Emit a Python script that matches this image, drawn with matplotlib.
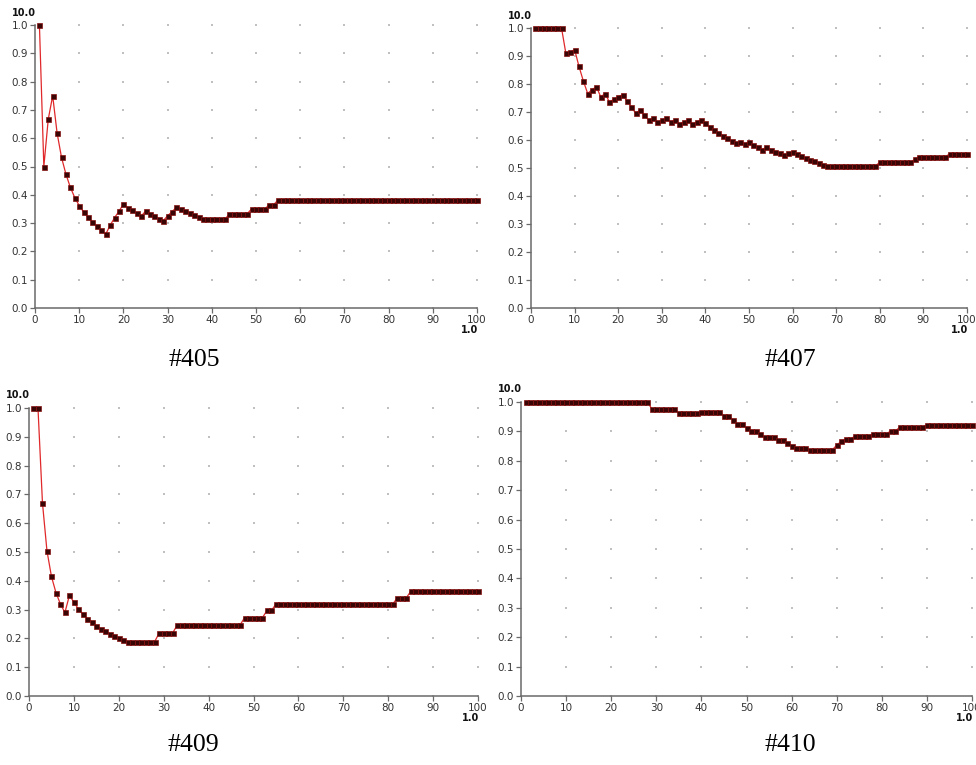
import numpy as np
import matplotlib
matplotlib.use("Agg")
import matplotlib.pyplot as plt

# Cumulative score per rank (1..100) for four queries
ranks = list(range(1, 101))

q405 = [
    1.000, 0.500, 0.667, 0.750, 0.618, 0.532, 0.473, 0.426, 0.390, 0.362,
    0.339, 0.320, 0.304, 0.288, 0.274, 0.261, 0.292, 0.319, 0.342, 0.367,
    0.354, 0.345, 0.334, 0.324, 0.342, 0.333, 0.324, 0.316, 0.308, 0.326,
    0.340, 0.356, 0.349, 0.342, 0.335, 0.328, 0.321, 0.315, 0.314, 0.314,
    0.314, 0.314, 0.314, 0.333, 0.333, 0.333, 0.333, 0.333, 0.350, 0.350,
    0.350, 0.350, 0.365, 0.365, 0.382, 0.382, 0.382, 0.382, 0.382, 0.382,
    0.382, 0.382, 0.382, 0.382, 0.382, 0.382, 0.382, 0.382, 0.382, 0.382,
    0.382, 0.382, 0.382, 0.382, 0.382, 0.382, 0.382, 0.382, 0.382, 0.382,
    0.382, 0.382, 0.382, 0.382, 0.382, 0.382, 0.382, 0.382, 0.382, 0.382,
    0.382, 0.382, 0.382, 0.382, 0.382, 0.382, 0.382, 0.382, 0.382, 0.382,
]

q407 = [
    1.000, 1.000, 1.000, 1.000, 1.000, 1.000, 1.000, 0.909, 0.914, 0.923,
    0.863, 0.811, 0.766, 0.780, 0.790, 0.754, 0.766, 0.735, 0.746, 0.754,
    0.762, 0.739, 0.719, 0.695, 0.707, 0.688, 0.671, 0.678, 0.663, 0.671,
    0.678, 0.664, 0.671, 0.656, 0.664, 0.671, 0.656, 0.664, 0.671, 0.659,
    0.647, 0.635, 0.626, 0.616, 0.606, 0.597, 0.588, 0.594, 0.585, 0.594,
    0.582, 0.574, 0.566, 0.574, 0.566, 0.558, 0.552, 0.545, 0.552, 0.558,
    0.550, 0.543, 0.535, 0.529, 0.524, 0.517, 0.511, 0.508, 0.508, 0.508,
    0.508, 0.508, 0.508, 0.508, 0.508, 0.508, 0.508, 0.508, 0.508, 0.520,
    0.520, 0.520, 0.520, 0.520, 0.520, 0.520, 0.520, 0.531, 0.540, 0.540,
    0.540, 0.540, 0.540, 0.540, 0.540, 0.550, 0.550, 0.550, 0.550, 0.550,
]

q409 = [
    1.000, 1.000, 0.670, 0.504, 0.415, 0.359, 0.319, 0.290, 0.349, 0.326,
    0.302, 0.284, 0.269, 0.256, 0.244, 0.233, 0.224, 0.216, 0.207, 0.202,
    0.196, 0.189, 0.189, 0.189, 0.189, 0.189, 0.189, 0.189, 0.219, 0.219,
    0.219, 0.219, 0.246, 0.246, 0.246, 0.246, 0.246, 0.246, 0.246, 0.246,
    0.246, 0.246, 0.246, 0.246, 0.246, 0.246, 0.246, 0.272, 0.272, 0.272,
    0.272, 0.272, 0.297, 0.297, 0.319, 0.319, 0.319, 0.319, 0.319, 0.319,
    0.319, 0.319, 0.319, 0.319, 0.319, 0.319, 0.319, 0.319, 0.319, 0.319,
    0.319, 0.319, 0.319, 0.319, 0.319, 0.319, 0.319, 0.319, 0.319, 0.319,
    0.319, 0.340, 0.340, 0.340, 0.363, 0.363, 0.363, 0.363, 0.363, 0.363,
    0.363, 0.363, 0.363, 0.363, 0.363, 0.363, 0.363, 0.363, 0.363, 0.363,
]

q410 = [
    1.000, 1.000, 1.000, 1.000, 1.000, 1.000, 1.000, 1.000, 1.000, 1.000,
    1.000, 1.000, 1.000, 1.000, 1.000, 1.000, 1.000, 1.000, 1.000, 1.000,
    1.000, 1.000, 1.000, 1.000, 1.000, 1.000, 1.000, 1.000, 0.977, 0.977,
    0.977, 0.977, 0.977, 0.977, 0.962, 0.962, 0.962, 0.962, 0.962, 0.966,
    0.966, 0.966, 0.966, 0.966, 0.953, 0.953, 0.940, 0.925, 0.925, 0.911,
    0.903, 0.903, 0.891, 0.880, 0.880, 0.880, 0.872, 0.872, 0.860, 0.852,
    0.843, 0.845, 0.845, 0.837, 0.837, 0.837, 0.837, 0.837, 0.837, 0.853,
    0.866, 0.874, 0.874, 0.883, 0.883, 0.883, 0.883, 0.891, 0.891, 0.891,
    0.891, 0.902, 0.902, 0.914, 0.914, 0.914, 0.914, 0.914, 0.914, 0.923,
    0.923, 0.923, 0.923, 0.923, 0.923, 0.923, 0.923, 0.923, 0.923, 0.923,
]

captions = ["#405", "#407", "#409", "#410"]
series = [q405, q407, q409, q410]

x_ticks = list(range(0, 101, 10))
y_ticks = [round(0.1 * i, 1) for i in range(11)]
y_tick_labels = [f"{v:.1f}" for v in y_ticks]

W, H = 976, 765
# panel boxes in pixels: left, right, top (y=1.0), bottom (y=0.0); caption centre
boxes = [
    (35, 477, 25, 308, (194, 360)),
    (531, 967, 28, 308, (790, 360)),
    (29, 478, 408, 696, (193, 745)),
    (521, 972, 402, 696, (790, 745)),
]

fig = plt.figure(figsize=(W / 100, H / 100), dpi=100)
fig.patch.set_facecolor("white")

for vals, cap, (l, r, t, b, (cx, cy)) in zip(series, captions, boxes):
    ax = fig.add_axes([l / W, 1 - b / H, (r - l) / W, (b - t) / H])
    ax.set_xlim(0, 100)
    ax.set_ylim(0, 1.0)
    for s in ("top", "right"):
        ax.spines[s].set_visible(False)
    for s in ("left", "bottom"):
        ax.spines[s].set_color("#6a6a6a")
        ax.spines[s].set_linewidth(1.1)

    # dotted grid: a faint dot at every tick intersection
    gx, gy = np.meshgrid(x_ticks[1:], y_ticks)
    ax.scatter(gx.ravel(), gy.ravel(), s=3.0, color="#c0c0c0",
               marker="s", linewidths=0, zorder=1, clip_on=False)

    ax.plot(ranks, vals, color="#e0282a", lw=0.9, zorder=2, clip_on=False,
            marker="s", markersize=3.6, markerfacecolor="#3a0505",
            markeredgecolor="#8a1010", markeredgewidth=0.5)

    ax.set_xticks(x_ticks)
    ax.set_yticks(y_ticks)
    ax.set_yticklabels(y_tick_labels)
    ax.tick_params(axis="both", direction="out", length=3.5, width=0.9,
                   color="#6a6a6a", labelsize=7.5, labelcolor="#333333",
                   pad=1.5)

    ax.annotate("10.0", xy=(0, 1), xycoords="axes fraction",
                xytext=(-8, 9), textcoords="offset points",
                ha="center", va="center", fontsize=7, fontweight="bold",
                color="#111111")
    ax.annotate("1.0", xy=(1, 0), xycoords="axes fraction",
                xytext=(-5, -16), textcoords="offset points",
                ha="center", va="center", fontsize=7, fontweight="bold",
                color="#111111")

    fig.text(cx / W, 1 - cy / H, cap, ha="center", va="center",
             fontsize=18.5, family="Liberation Serif", color="black")

fig.savefig("out.png", dpi=100, facecolor="white")
